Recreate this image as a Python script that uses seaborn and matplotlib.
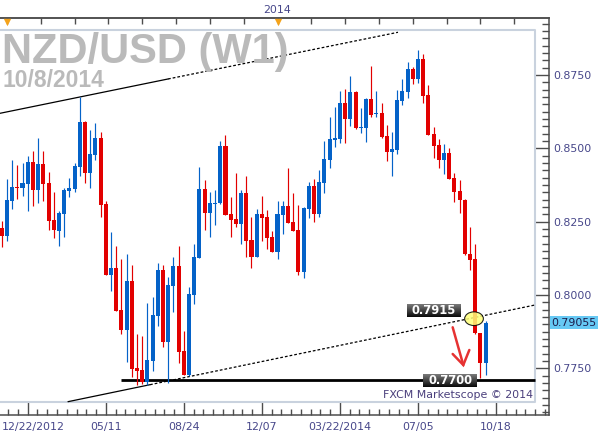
import numpy as np
import pandas as pd
import matplotlib
matplotlib.use('Agg')
import matplotlib.pyplot as plt
import seaborn as sns
from matplotlib.patches import Ellipse
from matplotlib.colors import LinearSegmentedColormap
from matplotlib.transforms import blended_transform_factory

# ---------------- data (weekly NZD/USD candles) ----------------
opens = [0.8230, 0.8202, 0.8322, 0.8368, 0.8366, 0.8380, 0.8453, 0.8359, 0.8447, 0.8382,
         0.8256, 0.8219, 0.8277, 0.8355, 0.8361, 0.8438, 0.8590, 0.8417, 0.8478, 0.8535,
         0.8310, 0.8069, 0.8092, 0.7949, 0.7882, 0.8048, 0.7751, 0.7744, 0.7703, 0.7776,
         0.7928, 0.8085, 0.7841, 0.8032, 0.8099, 0.7809, 0.7727, 0.8000, 0.8127, 0.8363,
         0.8281, 0.8310, 0.8313, 0.8508, 0.8276, 0.8259, 0.8243, 0.8349, 0.8187, 0.8131,
         0.8276, 0.8266, 0.8198, 0.8148, 0.8273, 0.8303, 0.8249, 0.8222, 0.8080, 0.8294,
         0.8372, 0.8277, 0.8383, 0.8460, 0.8528, 0.8532, 0.8655, 0.8600, 0.8692, 0.8571,
         0.8571, 0.8667, 0.8616, 0.8621, 0.8542, 0.8489, 0.8494, 0.8661, 0.8693, 0.8771,
         0.8736, 0.8805, 0.8682, 0.8549, 0.8511, 0.8460, 0.8483, 0.8400, 0.8355, 0.8323,
         0.8141, 0.8122, 0.7869, 0.7769]
highs = [0.8252, 0.8395, 0.8460, 0.8443, 0.8449, 0.8474, 0.8491, 0.8535, 0.8491, 0.8419,
         0.8351, 0.8286, 0.8364, 0.8399, 0.8449, 0.8676, 0.8592, 0.8563, 0.8586, 0.8556,
         0.8320, 0.8215, 0.8167, 0.8123, 0.8140, 0.8102, 0.7867, 0.7860, 0.7974, 0.7994,
         0.8109, 0.8103, 0.8060, 0.8131, 0.8167, 0.7878, 0.8028, 0.8174, 0.8438, 0.8392,
         0.8352, 0.8358, 0.8525, 0.8546, 0.8333, 0.8415, 0.8358, 0.8406, 0.8267, 0.8293,
         0.8338, 0.8290, 0.8219, 0.8320, 0.8320, 0.8434, 0.8349, 0.8307, 0.8300, 0.8384,
         0.8395, 0.8426, 0.8526, 0.8606, 0.8642, 0.8696, 0.8702, 0.8747, 0.8696, 0.8636,
         0.8671, 0.8781, 0.8696, 0.8655, 0.8580, 0.8556, 0.8699, 0.8736, 0.8793, 0.8778,
         0.8835, 0.8822, 0.8716, 0.8572, 0.8531, 0.8515, 0.8500, 0.8415, 0.8392, 0.8327,
         0.8231, 0.8174, 0.7870, 0.7913]
lows = [0.8165, 0.8185, 0.8294, 0.8328, 0.8338, 0.8288, 0.8303, 0.8315, 0.8322, 0.8222,
        0.8195, 0.8168, 0.8199, 0.8335, 0.8352, 0.8407, 0.8383, 0.8366, 0.8461, 0.8267,
        0.8068, 0.8015, 0.7946, 0.7868, 0.7770, 0.7719, 0.7694, 0.7697, 0.7692, 0.7742,
        0.7894, 0.7824, 0.7699, 0.7943, 0.7769, 0.7726, 0.7725, 0.7969, 0.8126, 0.8222,
        0.8199, 0.8239, 0.8310, 0.8272, 0.8199, 0.8233, 0.8174, 0.8131, 0.8093, 0.8130,
        0.8185, 0.8158, 0.8147, 0.8123, 0.8208, 0.8246, 0.8218, 0.8068, 0.8059, 0.8264,
        0.8250, 0.8267, 0.8349, 0.8434, 0.8506, 0.8519, 0.8519, 0.8577, 0.8566, 0.8553,
        0.8523, 0.8608, 0.8608, 0.8536, 0.8458, 0.8406, 0.8481, 0.8648, 0.8673, 0.8719,
        0.8722, 0.8656, 0.8545, 0.8468, 0.8432, 0.8413, 0.8394, 0.8318, 0.8278, 0.8138,
        0.8085, 0.7868, 0.7718, 0.7727]
closes = [0.8202, 0.8324, 0.8368, 0.8366, 0.8382, 0.8453, 0.8359, 0.8447, 0.8380, 0.8253,
          0.8220, 0.8280, 0.8359, 0.8366, 0.8440, 0.8590, 0.8417, 0.8481, 0.8535, 0.8308,
          0.8069, 0.8092, 0.7947, 0.7882, 0.8048, 0.7749, 0.7742, 0.7703, 0.7778, 0.7932,
          0.8085, 0.7841, 0.8034, 0.8099, 0.7807, 0.7727, 0.8003, 0.8131, 0.8363, 0.8281,
          0.8315, 0.8315, 0.8508, 0.8273, 0.8256, 0.8243, 0.8349, 0.8185, 0.8131, 0.8276,
          0.8264, 0.8195, 0.8148, 0.8276, 0.8303, 0.8247, 0.8219, 0.8080, 0.8298, 0.8372,
          0.8277, 0.8385, 0.8464, 0.8532, 0.8535, 0.8655, 0.8600, 0.8692, 0.8571, 0.8573,
          0.8667, 0.8614, 0.8621, 0.8540, 0.8489, 0.8498, 0.8665, 0.8696, 0.8771, 0.8736,
          0.8805, 0.8680, 0.8546, 0.8509, 0.8460, 0.8483, 0.8395, 0.8352, 0.8324, 0.8139,
          0.8119, 0.7869, 0.7769, 0.7906]

date_tick_idx = [5, 20, 35, 50, 65, 80, 95]
date_tick_labels = ['12/22/2012', '05/11', '08/24', '12/07', '03/22/2014', '07/05', '10/18']
price_ticks = [0.7750, 0.8000, 0.8250, 0.8500, 0.8750]
year_idx = [1, 53]
year_label = '2014'
last_price = 0.79055
support_level = 0.7709
support_label = '0.7700'
break_label = '0.7915'
upper_line_x = [-0.33, 31.96, 76.15]
upper_line_y = [0.86194, 0.87364, 0.88956]
lower_line_x = [12.74, 28.5, 102.48]
lower_line_y = [0.76363, 0.76942, 0.79659]
support_x = [22.93, 102.48]
break_box = (83.07, 0.79472)
support_box = (86.15, 0.7709)
circle_center = (90.76, 0.79192)
arrow_shaft_x = [86.66, 88.70]
arrow_shaft_y = [0.78899, 0.77614]
arrow_head_x = [86.66, 88.70, 89.86]
arrow_head_y = [0.77989, 0.77614, 0.78125]

# ---------------- style ----------------
BLUE = '#0462c8'
RED = '#e20000'
AXC = '#4d4d4d'
LABC = '#47478a'
sns.set_theme(style='white')
plt.rcParams['font.family'] = ['DejaVu Sans']

fig = plt.figure(figsize=(6.07, 4.41), dpi=100)
fig.patch.set_facecolor('white')
ax = fig.add_axes([0, 26 / 441, 549 / 607, 397 / 441])
ax.set_facecolor('white')

df = pd.DataFrame({'open': opens, 'high': highs, 'low': lows, 'close': closes})
df['idx'] = np.arange(len(df))
df['up'] = df['close'] >= df['open']
colors = np.where(df['up'], BLUE, RED)

# channel lines
sns.lineplot(x=upper_line_x[:2], y=upper_line_y[:2], ax=ax, color='black', lw=0.9, zorder=2)
sns.lineplot(x=upper_line_x[1:], y=upper_line_y[1:], ax=ax, color='black', lw=0.9,
             linestyle=(0, (2.2, 1.6)), zorder=2)
sns.lineplot(x=lower_line_x[:2], y=lower_line_y[:2], ax=ax, color='black', lw=0.9, zorder=2)
sns.lineplot(x=lower_line_x[1:], y=lower_line_y[1:], ax=ax, color='black', lw=0.9,
             linestyle=(0, (2.2, 1.6)), zorder=2)
ax.plot(support_x, [support_level, support_level], color='black', lw=2.0, zorder=2,
        solid_capstyle='butt')

# candles
ax.vlines(df['idx'], df['low'], df['high'], colors=colors, lw=0.85, zorder=3)
heights = np.maximum((df['close'] - df['open']).abs(), 0.0003)
ax.bar(df['idx'], heights, bottom=np.minimum(df['open'], df['close']), width=0.78,
       color=colors, linewidth=0, zorder=4)

# inner plot frame
ax.plot([0, 0.9745, 0.9745, 0], [0.9698, 0.9698, 0.03275, 0.03275], transform=ax.transAxes,
        color='#c9d2de', lw=1.5, clip_on=False, zorder=1)

# circle at break point
ax.add_patch(Ellipse(circle_center, width=3.6, height=0.00467, facecolor='#ffff7a',
                     edgecolor='black', lw=0.8, alpha=0.85, zorder=8))

# red arrow
ax.plot(arrow_shaft_x, arrow_shaft_y, color='#e63232', lw=1.8, zorder=9, solid_capstyle='round')
ax.plot(arrow_head_x, arrow_head_y, color='#e63232', lw=1.8, zorder=9, solid_capstyle='round',
        solid_joinstyle='miter')

# dark gradient label boxes
cmap = LinearSegmentedColormap.from_list('g', ['#7a7a7a', '#0a0a0a'])
grad = np.linspace(0, 1, 32).reshape(-1, 1)
bw, bh = 10.3, 0.0043
for (cx, cy), txt in [(break_box, break_label), (support_box, support_label)]:
    ax.imshow(grad, cmap=cmap, extent=[cx - bw / 2, cx + bw / 2, cy - bh / 2, cy + bh / 2],
              aspect='auto', zorder=10, interpolation='bilinear')
    ax.text(cx, cy, txt, color='white', fontsize=8.3, fontweight='bold', ha='center',
            va='center', zorder=11)

ax.set_xlim(-0.327, 105.17)
ax.set_ylim(0.75909, 0.89443)

# spines
ax.spines['left'].set_visible(False)
for s in ['top', 'right', 'bottom']:
    ax.spines[s].set_color(AXC)
    ax.spines[s].set_linewidth(1.1)

# bottom axis
ax.xaxis.set_ticks_position('bottom')
ax.set_xticks(date_tick_idx)
ax.set_xticklabels([''] + date_tick_labels[1:])
ax.set_xticks(np.arange(5 - 15 / 8 * 2, 105, 15 / 8), minor=True)
ax.tick_params(axis='x', which='major', direction='in', length=9.4, width=1, color=AXC,
               labelsize=7.9, labelcolor=LABC, pad=5)
ax.tick_params(axis='x', which='minor', direction='in', length=4.3, width=1, color=AXC)
trans_x = blended_transform_factory(ax.transData, ax.transAxes)
ax.text(6.0, -7 / 397, date_tick_labels[0], transform=trans_x, ha='center', va='top',
        fontsize=7.9, color=LABC)

# right axis
ax.yaxis.set_ticks_position('right')
ax.set_yticks(price_ticks)
ax.set_yticklabels([f'{v:.4f}' for v in price_ticks])
ax.set_yticks(np.arange(0.7600, 0.8950, 0.0025), minor=True)
ax.tick_params(axis='y', which='major', direction='in', length=10, width=1, color=AXC,
               labelsize=7.9, labelcolor=LABC, pad=3)
ax.tick_params(axis='y', which='minor', direction='in', length=5, width=1, color=AXC)
ax.grid(False)

trans_y = blended_transform_factory(ax.transAxes, ax.transData)
ax.text(1 + 2.5 / 549, last_price, f'{last_price:.5f}', transform=trans_y, ha='left',
        va='center', fontsize=7.9, color='#1c1c4a',
        bbox=dict(boxstyle='square,pad=0.12', fc='#66c9f4', ec='none'), zorder=12)

# top axis
sec = ax.secondary_xaxis('top')
top_pos = np.arange(year_idx[0], 105, 6.5)
sec.set_xticks(top_pos)
sec.set_xticklabels([year_label if abs(p - year_idx[1]) < 0.01 else '' for p in top_pos])
sec.tick_params(direction='in', length=4.3, width=1, color=AXC, labelsize=7.9,
                labelcolor=LABC, pad=2.5)
sec.spines['top'].set_color(AXC)
sec.spines['top'].set_linewidth(1.1)
ax.scatter(year_idx, [0.9905, 0.9905], marker='v', s=28, color='#f5a31a', transform=trans_x,
           clip_on=False, zorder=12, linewidths=0)

# watermark texts
ax.text(533 / 549, (415 - 395.5) / 397, 'FXCM Marketscope \u00a9 2014', transform=ax.transAxes,
        ha='right', va='center', fontsize=7.9, color='#4a3f7c', zorder=12)
fig.text(2 / 607, (441 - 63) / 441, 'NZD/USD (W1)', fontsize=30, fontweight='bold',
         color='#bababa', family='Liberation Sans', va='baseline', ha='left')
fig.text(2 / 607, (441 - 87) / 441, '10/8/2014', fontsize=16.5, fontweight='bold',
         color='#bababa', family='Liberation Sans', va='baseline', ha='left')

fig.savefig('out.png', dpi=100, facecolor='white')
